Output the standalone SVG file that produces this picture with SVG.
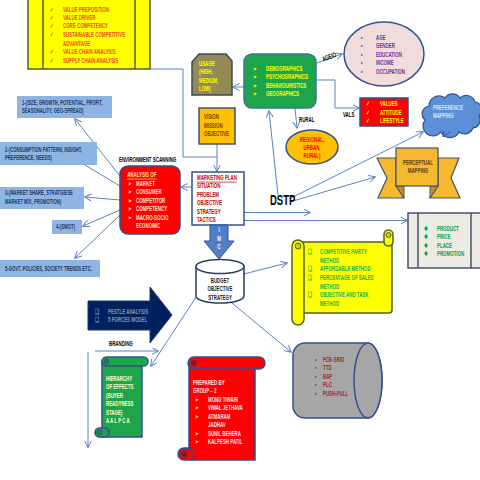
<svg xmlns="http://www.w3.org/2000/svg" width="480" height="480" viewBox="0 0 480 480">
<defs>
<style>
.t{font-family:"Liberation Sans",Arial,sans-serif;font-weight:bold;font-size:7px}
.c{fill:none;stroke:#5b83c4;stroke-width:1}
.ca{fill:none;stroke:#5b83c4;stroke-width:1;marker-end:url(#ah)}
</style>
<marker id="ah" markerWidth="8" markerHeight="8" refX="6.5" refY="3.5" orient="auto" markerUnits="userSpaceOnUse">
<path d="M0,0 L7,3.5 L0,7" fill="none" stroke="#5b83c4" stroke-width="1"/>
</marker>
</defs>
<rect width="480" height="480" fill="#ffffff"/>

<g id="connectors">
<path class="ca" d="M150,69 H183 V157 H217 V171"/>
<path class="c" d="M217,144 V157"/>
<path class="ca" d="M244,87 H233"/>
<path class="ca" d="M300,69 L342,54"/>
<path class="ca" d="M316,80 H335 V108 H359"/>
<path class="ca" d="M295,108 L297,128"/>
<path class="ca" d="M278,195 L269,111"/>
<path class="ca" d="M291,198 L423,132"/>
<path class="ca" d="M293,201 L375,177"/>
<path class="ca" d="M215,212.5 H310"/>
<path class="ca" d="M213,220.5 H407"/>
<path class="ca" d="M192,187 H181"/>
<path class="ca" d="M120,176 L75,119"/>
<path class="c" d="M120,186 L85,165"/>
<path class="ca" d="M120,200 L85,197"/>
<path class="ca" d="M120,210 L83,226"/>
<path class="ca" d="M120,215 L75,258"/>
<path class="ca" d="M232,277 L287,263"/>
<path class="ca" d="M200,291 L151,366"/>
<path class="ca" d="M232,303 L291,352"/>
<path class="ca" d="M95,351 H158"/>
<path class="ca" d="M88,352 V447"/>
</g>

<g id="value-box">
<rect x="28" y="-2" width="122" height="71" fill="#ffff00" stroke="#4f6228" stroke-width="1.5"/>
<line x1="43" y1="0" x2="43" y2="69" stroke="#4f6228" stroke-width="1.5"/>
<line x1="135" y1="0" x2="135" y2="69" stroke="#4f6228" stroke-width="1.5"/>
<g class="t" fill="#e8501e" transform="translate(63,0) scale(.63,1)">
<text x="0" y="11.8">VALUE PREPOSITION</text>
<text x="0" y="19.8">VALUE DRIVER</text>
<text x="0" y="28.5">CORE COMPETENCY</text>
<text x="0" y="37.2">SUSTAINABLE COMPETITIVE</text>
<text x="0" y="45.8">ADVANTAGE</text>
<text x="0" y="54.2">VALUE CHAIN ANALYSIS</text>
<text x="0" y="62.8">SUPPLY CHAIN ANALYSIS</text>
<text x="-20.5" y="11.8">✓</text>
<text x="-20.5" y="19.8">✓</text>
<text x="-20.5" y="28.5">✓</text>
<text x="-20.5" y="37.2">✓</text>
<text x="-20.5" y="54.2">✓</text>
<text x="-20.5" y="62.8">✓</text>
</g>
</g>

<g id="usage">
<path d="M192,62 L199,54 H226 L232,61 V95 H192 Z" fill="#948a54" stroke="#3b4a5c" stroke-width="1.5"/>
<g class="t" fill="#ffff00" transform="translate(199,0) scale(.63,1)">
<text x="0" y="65.8">USAGE</text>
<text x="0" y="74.2">(HIGH,</text>
<text x="0" y="82.8">MEDIUM,</text>
<text x="0" y="91.5">LOW)</text>
</g>
</g>

<g id="segmentation">
<rect x="244" y="54" width="72" height="54" rx="8" fill="#1ea54b" stroke="#41719c" stroke-width="1.5"/>
<g class="t" fill="#ffff00" transform="translate(266,0) scale(.63,1)">
<text x="0" y="70.8">DEMOGRAPHICS</text>
<text x="0" y="79.5">PSYCHOGRAPHICS</text>
<text x="0" y="87.8">BEHAVIOURISTICS</text>
<text x="0" y="96.5">GEOGRAPHICS</text>
<text x="-20.5" y="70.8">➢</text>
<text x="-20.5" y="79.5">➢</text>
<text x="-20.5" y="87.8">➢</text>
<text x="-20.5" y="96.5">➢</text>
</g>
</g>

<g id="ageio-label">
<text class="t" fill="#000" text-anchor="middle" transform="translate(330,59) rotate(-22) scale(.63,1)">AGEIO</text>
</g>

<g id="demographics">
<ellipse cx="384" cy="54" rx="40" ry="32" fill="#f2dcdb" stroke="#2f528f" stroke-width="1.5"/>
<g class="t" fill="#7030a0" transform="translate(376,0) scale(.63,1)">
<text x="0" y="39.8">AGE</text>
<text x="0" y="48.5">GENDER</text>
<text x="0" y="56.8">EDUCATION</text>
<text x="0" y="65.2">INCOME</text>
<text x="0" y="73.8">OCCUPATION</text>
<text x="-23.7" y="39.8">•</text>
<text x="-23.7" y="48.5">•</text>
<text x="-23.7" y="56.8">•</text>
<text x="-23.7" y="65.2">•</text>
<text x="-23.7" y="73.8">•</text>
</g>
</g>

<g id="vals">
<rect x="360" y="98" width="48" height="28" fill="#ff0000" stroke="#2f528f" stroke-width="1.5"/>
<g class="t" fill="#ffff00" transform="translate(380,0) scale(.63,1)">
<text x="0" y="106.2">VALUES</text>
<text x="0" y="114.8">ATTITUDE</text>
<text x="0" y="123.5">LIFESTYLE</text>
<text x="-22.2" y="106.2">✓</text>
<text x="-22.2" y="114.8">✓</text>
<text x="-22.2" y="123.5">✓</text>
</g>
<text class="t" fill="#000" transform="translate(343,116.8) scale(.63,1)">VALS</text>
</g>

<g id="preference-mapping">
<path d="M425,120 A8,8 0 0 1 429,106 A10,10 0 0 1 445,98 A9,9 0 0 1 460,98 A9,9 0 0 1 475,102 A8,8 0 0 1 479,116 A8,8 0 0 1 473,128 A9,9 0 0 1 459,132 A10,10 0 0 1 441,132 A10,10 0 0 1 425,120 Z" fill="#5b8fd6" stroke="#2f528f" stroke-width="1.2"/>
<path d="M444,131 L443,137 L450,132" fill="#5b8fd6" stroke="#2f528f" stroke-width="1"/>
<g class="t" fill="#dbe5f1" transform="translate(433,0) scale(.63,1)">
<text x="0" y="109.8">PREFERENCE</text>
<text x="0" y="118.2">MAPPING</text>
</g>
</g>

<g id="regional">
<text class="t" fill="#000" transform="translate(299,121.8) scale(.63,1)">RURAL</text>
<ellipse cx="312" cy="147" rx="26" ry="17" fill="#ffc000" stroke="#2f528f" stroke-width="1.5"/>
<g class="t" fill="#ff0000" text-anchor="middle" transform="translate(312,0) scale(.63,1)">
<text x="0" y="141.8">REGIONAL,</text>
<text x="0" y="150.2">URBAN,</text>
<text x="0" y="158.5">RURAL)</text>
</g>
</g>

<g id="vision">
<rect x="199" y="108" width="36" height="36" fill="#ffc000" stroke="#44546a" stroke-width="1.5"/>
<g class="t" fill="#7f3f00" transform="translate(204,0) scale(.63,1)">
<text x="0" y="119.2">VISION</text>
<text x="0" y="127.7">MISSION</text>
<text x="0" y="136.2">OBJECTIVE</text>
</g>
</g>

<g id="perceptual-mapping">
<path d="M377,158 H396 V186 L404,198 H378 L387,178 Z" fill="#f5b82e" stroke="#44546a" stroke-width="1.2"/>
<path d="M459,158 H438 V186 L430,198 H460 L451,178 Z" fill="#f5b82e" stroke="#44546a" stroke-width="1.2"/>
<path d="M396,186 H404 V198 Z" fill="#c8901a" stroke="#44546a" stroke-width="1"/>
<path d="M438,186 H430 V198 Z" fill="#c8901a" stroke="#44546a" stroke-width="1"/>
<rect x="396" y="148" width="42" height="38" fill="#f5b82e" stroke="#44546a" stroke-width="1.2"/>
<g class="t" fill="#5a3d10" text-anchor="middle" transform="translate(418,0) scale(.63,1)">
<text x="0" y="165.2">PERCEPTUAL</text>
<text x="0" y="173.5">MAPPING</text>
</g>
</g>

<g id="dstp">
<text class="t" fill="#000" style="font-size:14px" transform="translate(270,205) scale(.68,1)">DSTP</text>
</g>

<g id="marketing-plan">
<rect x="192" y="172" width="52" height="53" fill="#ffffff" stroke="#2f528f" stroke-width="1.5"/>
<g class="t" fill="#c00000" transform="translate(197,0) scale(.63,1)">
<text x="0" y="180.5" text-decoration="underline">MARKETING PLAN</text>
<text x="0" y="188.5">SITUATION</text>
<text x="0" y="197.2">PROBLEM</text>
<text x="0" y="205.5">OBJECTIVE</text>
<text x="0" y="214.2">STRATEGY</text>
<text x="0" y="222.5">TACTICS</text>
</g>
</g>

<g id="environment-scanning">
<text class="t" fill="#000" transform="translate(119,161.5) scale(.63,1)">ENVIRONMENT SCANNING</text>
<rect x="120" y="166" width="60" height="68" rx="8" fill="#ff0000" stroke="#2f528f" stroke-width="1.5"/>
<g class="t" fill="#fde2c8" transform="translate(136,0) scale(.63,1)">
<text x="-14" y="177.5" fill="#ffe699" text-decoration="underline">ANALYSIS OF</text>
<text x="0" y="185.8">MARKET</text>
<text x="0" y="194.5">CONSUMER</text>
<text x="0" y="203.2">COMPETITOR</text>
<text x="0" y="211.5">COMPETENCY</text>
<text x="0" y="220.2">MACRO-SOCIO</text>
<text x="0" y="228.5">ECONOMIC</text>
<text x="-12.7" y="185.8">➢</text>
<text x="-12.7" y="194.5">➢</text>
<text x="-12.7" y="203.2">➢</text>
<text x="-12.7" y="211.5">➢</text>
<text x="-12.7" y="220.2">➢</text>
</g>
</g>

<g id="box1">
<rect x="17" y="96" width="95" height="22" fill="#8eb4e3"/>
<g class="t" fill="#1f3864" transform="translate(22,0) scale(.6,1)">
<text x="0" y="104.7">1-(SIZE, GROWTH, POTENTIAL, PROFIT,</text>
<text x="0" y="112.7">SEASONALITY, GEO-SPREAD)</text>
</g>
</g>
<g id="box2">
<rect x="0" y="142" width="97" height="23" fill="#8eb4e3"/>
<g class="t" fill="#1f3864" transform="translate(5,0) scale(.6,1)">
<text x="0" y="151.7">2-(CONSUMPTION PATTERN, INSIGHT,</text>
<text x="0" y="159.7">PREFERENCE, NEEDS)</text>
</g>
</g>
<g id="box3">
<rect x="0" y="187" width="84" height="22" fill="#8eb4e3"/>
<g class="t" fill="#1f3864" transform="translate(5,0) scale(.6,1)">
<text x="0" y="195.4">3-(MARKET SHARE, STRATGIESE</text>
<text x="0" y="203.7">MARKET MIX, PROMOTION)</text>
</g>
</g>
<g id="box4">
<rect x="52" y="220" width="30" height="14" fill="#8eb4e3"/>
<text class="t" fill="#1f3864" transform="translate(56,229.4) scale(.6,1)">4-(SWOT)</text>
</g>
<g id="box5">
<rect x="0" y="260" width="100" height="17" fill="#8eb4e3"/>
<text class="t" fill="#1f3864" transform="translate(5,271.4) scale(.6,1)">5-GOVT. POLICIES, SOCIETY TRENDS ETC.</text>
</g>

<g id="imc">
<path d="M210,225 H228 V241 H234 L219,259 L204,241 H210 Z" fill="#4f7fc8" stroke="#2f528f" stroke-width="1"/>
<g class="t" fill="#ffffff" text-anchor="middle" transform="translate(219,0) scale(.63,1)">
<text x="0" y="232.2">I</text>
<text x="0" y="240.7">M</text>
<text x="0" y="249.2">C</text>
</g>
</g>

<g id="budget">
<path d="M196,266.5 V296 A24,7 0 0 0 244,296 V266.5 Z" fill="#ffffff" stroke="#243f60" stroke-width="1.5"/>
<ellipse cx="220" cy="266.5" rx="24" ry="7" fill="#ffffff" stroke="#243f60" stroke-width="1.5"/>
<g class="t" fill="#1a1a1a" text-anchor="middle" transform="translate(220,0) scale(.63,1)">
<text x="0" y="283.2">BUDGET</text>
<text x="0" y="291.5">OBJECTIVE</text>
<text x="0" y="300.2">STRATEGY</text>
</g>
</g>

<g id="budget-methods">
<rect x="298" y="242" width="94" height="71" rx="3" fill="#ffff00" stroke="#4f6228" stroke-width="1.5"/>
<rect x="384" y="230" width="9" height="16" rx="4.5" fill="#ffff00" stroke="#4f6228" stroke-width="1.5"/>
<circle cx="388.5" cy="235" r="2.5" fill="#cccc00" stroke="#4f6228" stroke-width="1"/>
<rect x="292" y="240" width="12" height="85" rx="6" fill="#ffff00" stroke="#4f6228" stroke-width="1.5"/>
<circle cx="298" cy="246" r="3" fill="#cccc00" stroke="#4f6228" stroke-width="1"/>
<g class="t" fill="#22b14c" transform="translate(320,0) scale(.63,1)">
<text x="0" y="254.5">COMPETITIVE PARITY</text>
<text x="0" y="263.2">METHOD</text>
<text x="0" y="271.5">AFFORDABLE METHOD</text>
<text x="0" y="280.2">PERCENTAGE OF SALES</text>
<text x="0" y="288.8">METHOD</text>
<text x="0" y="297.2">OBJECTIVE AND TASK</text>
<text x="0" y="305.8">METHOD</text>
<text x="-19" y="254.5">❑</text>
<text x="-19" y="271.5">❑</text>
<text x="-19" y="280.2">❑</text>
<text x="-19" y="297.2">❑</text>
</g>
</g>

<g id="marketing-mix">
<rect x="408" y="213" width="74" height="55" fill="#ecebe3" stroke="#44546a" stroke-width="1.5"/>
<line x1="418" y1="213" x2="418" y2="268" stroke="#44546a" stroke-width="1.5"/>
<line x1="471" y1="213" x2="471" y2="268" stroke="#44546a" stroke-width="1.5"/>
<g class="t" fill="#00a050" transform="translate(437,0) scale(.63,1)">
<text x="0" y="230.8">PRODUCT</text>
<text x="0" y="239.2">PRICE</text>
<text x="0" y="247.8">PLACE</text>
<text x="0" y="256.2">PROMOTION</text>
<text x="-20.5" y="230.8">❖</text>
<text x="-20.5" y="239.2">❖</text>
<text x="-20.5" y="247.8">❖</text>
<text x="-20.5" y="256.2">❖</text>
</g>
</g>

<g id="pestle">
<path d="M88,301 H150 V287 L172,315 L150,343 V330 H88 Z" fill="#002060" stroke="#1f3864" stroke-width="1"/>
<g class="t" fill="#8497b0" transform="translate(108,0) scale(.63,1)">
<text x="0" y="313.8">PESTLE ANALYSIS</text>
<text x="0" y="322.5">5 FORCES MODEL</text>
<text x="-20.5" y="313.8">❑</text>
<text x="-20.5" y="322.5">❑</text>
</g>
</g>

<g id="branding">
<text class="t" fill="#000" transform="translate(109,345.8) scale(.63,1)">BRANDING</text>
</g>

<g id="hierarchy">
<rect x="102" y="361" width="40" height="76" fill="#1ea54b" stroke="#2f528f" stroke-width="1.5"/>
<rect x="102" y="357" width="46" height="9" rx="4.5" fill="#1ea54b" stroke="#2f528f" stroke-width="1.5"/>
<circle cx="106.5" cy="361.5" r="2.5" fill="#138a3a" stroke="#2f528f" stroke-width="1"/>
<rect x="95" y="428" width="14" height="9" rx="4.5" fill="#1ea54b" stroke="#2f528f" stroke-width="1.5"/>
<circle cx="99.5" cy="432.5" r="2.5" fill="#138a3a" stroke="#2f528f" stroke-width="1"/>
<g class="t" fill="#ffffcc" transform="translate(106,0) scale(.63,1)">
<text x="0" y="380.8">HIERARCHY</text>
<text x="0" y="389.2">OF EFFECTS</text>
<text x="0" y="397.8">(BUYER</text>
<text x="0" y="406.2">READYNESS</text>
<text x="0" y="414.8">STAGE)</text>
<text x="0" y="423.5">A A L P C A</text>
</g>
</g>

<g id="prepared-by">
<rect x="189" y="362" width="66" height="98" fill="#ff0000" stroke="#2f528f" stroke-width="1.5"/>
<rect x="188" y="357" width="77" height="12" rx="6" fill="#ff0000" stroke="#2f528f" stroke-width="1.5"/>
<circle cx="194" cy="363" r="3.5" fill="#c00000" stroke="#2f528f" stroke-width="1"/>
<rect x="178" y="448" width="16" height="12" rx="6" fill="#ff0000" stroke="#2f528f" stroke-width="1.5"/>
<circle cx="184" cy="454" r="3.5" fill="#c00000" stroke="#2f528f" stroke-width="1"/>
<g class="t" fill="#ffe0e0" transform="translate(208,0) scale(.63,1)">
<text x="-23.7" y="384.8">PREPARED BY</text>
<text x="-23.7" y="393.2">GROUP – 2</text>
<text x="0" y="401.8">MONU TIWARI</text>
<text x="0" y="410.2">VIMAL JETHAVA</text>
<text x="0" y="418.8">ATMARAM</text>
<text x="0" y="427.5">JADHAV</text>
<text x="0" y="435.8">SUNIL BEHERA</text>
<text x="0" y="444.5">KALPESH PATIL</text>
<text x="-20.5" y="401.8">➢</text>
<text x="-20.5" y="410.2">➢</text>
<text x="-20.5" y="418.8">➢</text>
<text x="-20.5" y="435.8">➢</text>
<text x="-20.5" y="444.5">➢</text>
</g>
</g>

<g id="models">
<path d="M368,343 H305 A12,12 0 0 0 293,355 V406 A12,12 0 0 0 305,418 H368 A14,37.5 0 0 0 368,343 Z" fill="#a6a6a6" stroke="#2f528f" stroke-width="1.5"/>
<ellipse cx="368" cy="380.5" rx="14" ry="37.5" fill="#a6a6a6" stroke="#2f528f" stroke-width="1.5"/>
<g class="t" fill="#a52a2a" transform="translate(323,0) scale(.63,1)">
<text x="0" y="361.8">FCB GRID</text>
<text x="0" y="370.2">TTD</text>
<text x="0" y="378.8">BAP</text>
<text x="0" y="387.2">PLC</text>
<text x="0" y="395.8">PUSH-PULL</text>
<text x="-12.7" y="361.8">•</text>
<text x="-12.7" y="370.2">•</text>
<text x="-12.7" y="378.8">•</text>
<text x="-12.7" y="387.2">•</text>
<text x="-12.7" y="395.8">•</text>
</g>
</g>
</svg>
